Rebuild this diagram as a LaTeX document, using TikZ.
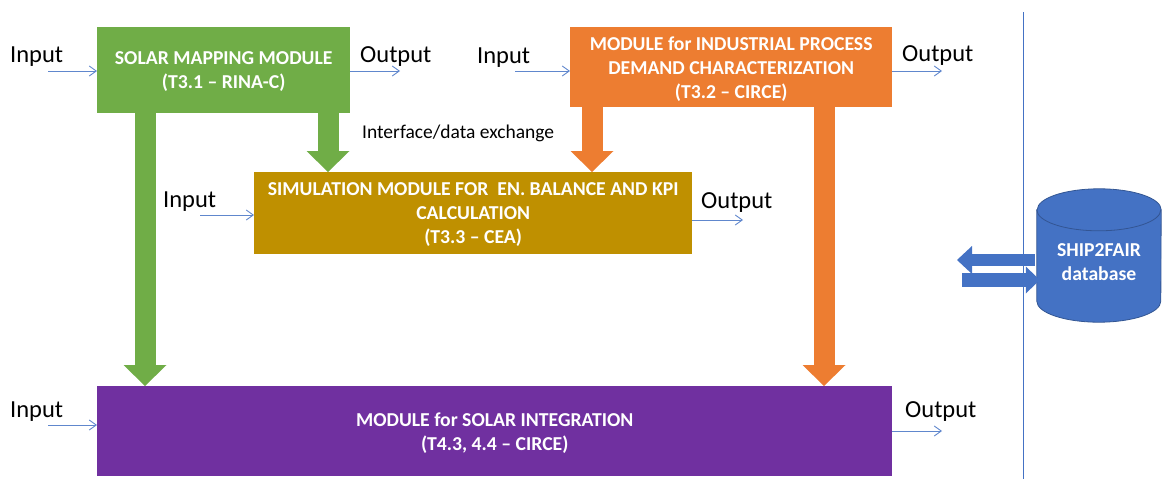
\documentclass[tikz,border=0pt]{standalone}
\usepackage{fontspec}
\setmainfont{Carlito}
\usetikzlibrary{positioning, arrows.meta, shapes.geometric}

\definecolor{solargreen}{HTML}{70AD47}
\definecolor{procorange}{HTML}{ED7D31}
\definecolor{simgold}{HTML}{BF9000}
\definecolor{integpurple}{HTML}{7030A0}
\definecolor{dbblue}{HTML}{4472C4}

\tikzset{
  module/.style={
    rectangle, inner sep=0pt, text depth=0pt,
    text centered, align=center, anchor=north west,
    text=white, font=\bfseries\fontsize{19.7}{24}\selectfont
  }
}
\tikzset{
  io/.style={font=\fontsize{24.5}{26}\selectfont, inner sep=0pt, anchor=west}
}
\tikzset{
  flow/.style={draw=dbblue!85, line width=0.9pt,
    -{Straight Barb[length=7pt,width=10pt]}}
}
\tikzset{
  fat/.style={line width=21pt,
    -{Triangle[length=21pt,width=43pt,line width=0pt]}}
}
\tikzset{
  dbbody/.style={fill=dbblue, draw=dbblue!75!black, line width=0.8pt},
  dbcap/.style={x radius=62pt, y radius=21pt}
}
\tikzset{
  dbtext/.style={align=center, inner sep=0pt,
    text=white, font=\bfseries\fontsize{19.7}{24}\selectfont}
}

\begin{document}
\begin{tikzpicture}[x=1pt, y=-1pt]
\useasboundingbox (0,0) rectangle (1162,479);

% ------------------------------------------------
% MODULES
% ------------------------------------------------

% solar mapping
\node[module, fill=solargreen, minimum width=253pt, minimum height=86pt]
  (smm) at (97,27) {SOLAR MAPPING MODULE\\(T3.1 -- RINA-C)};

% industrial process demand
\node[module, fill=procorange, minimum width=322pt, minimum height=80pt]
  (ipd) at (570,27) {MODULE for INDUSTRIAL PROCESS\\
  DEMAND CHARACTERIZATION\\(T3.2 -- CIRCE)};

% simulation
\node[module, fill=simgold, minimum width=438pt, minimum height=82pt]
  (sim) at (254,172) {SIMULATION MODULE FOR\ \ EN. BALANCE AND KPI\\
  CALCULATION\\(T3.3 -- CEA)};

% solar integration
\node[module, fill=integpurple, minimum width=795pt, minimum height=90pt]
  (integ) at (97,386) {MODULE for SOLAR INTEGRATION\\(T4.3, 4.4 -- CIRCE)};

% database (cylinder drawn round the node)
\node[minimum width=124pt, minimum height=133pt, inner sep=0pt]
  (db) at (1099,255.5) {};
\path[dbbody] ([yshift=-21pt]db.north west)
  -- ([yshift=21pt]db.south west) arc[start angle=180, end angle=360, dbcap]
  -- ([yshift=-21pt]db.north east) arc[start angle=0, end angle=180, dbcap]
  -- cycle;
\draw[dbblue!75!black, line width=0.8pt] ([yshift=-21pt]db.north west)
  arc[start angle=180, end angle=360, dbcap];
\node[dbtext] (dblabel) at ([yshift=-6.5pt]db.center) {SHIP2FAIR\\database};

% separator
\draw[dbblue, line width=0.9pt] (1023,12) -- (1023,479);

% ------------------------------------------------
% INPUT / OUTPUT
% ------------------------------------------------

\node[io] (in1) at (10,57) {Input};
\node[io] (out1) at (360,57) {Output};
\node[io] (in2) at (477,58) {Input};
\node[io] (out2) at (902,56) {Output};
\node[io] (in3) at (163,202) {Input};
\node[io] (out3) at (701,203) {Output};
\node[io] (in4) at (10,412) {Input};
\node[io] (out4) at (905,412) {Output};

\node[font=\fontsize{19.5}{20}\selectfont, inner sep=0pt, anchor=west]
  (iface) at (362,133) {Interface/data exchange};

\coordinate (a1) at (48,71);
\coordinate (a2) at (400,71);
\coordinate (a3) at (515,71);
\coordinate (a4) at (942,71);
\coordinate (a5) at (200,215);
\coordinate (a6) at (743,220);
\coordinate (a7) at (48,425);
\coordinate (a8) at (942,431);

\draw[flow] (a1) -- (a1 -| smm.west);
\draw[flow] (a2 -| smm.east) -- (a2);
\draw[flow] (a3) -- (a3 -| ipd.west);
\draw[flow] (a4 -| ipd.east) -- (a4);
\draw[flow] (a5) -- (a5 -| sim.west);
\draw[flow] (a6 -| sim.east) -- (a6);
\draw[flow] (a7) -- (a7 -| integ.west);
\draw[flow] (a8 -| integ.east) -- (a8);

% ------------------------------------------------
% BLOCK ARROWS
% ------------------------------------------------

\coordinate (g1) at ([xshift=48pt]smm.south west);
\coordinate (g2) at ([xshift=231pt]smm.south west);
\coordinate (o1) at ([xshift=22pt]ipd.south west);
\coordinate (o2) at ([xshift=254pt]ipd.south west);

\draw[fat, solargreen] (g1) -- (g1 |- integ.north);
\draw[fat, solargreen] (g2) -- (g2 |- sim.north);
\draw[fat, procorange] (o1) -- (o1 |- sim.north);
\draw[fat, procorange] (o2) -- (o2 |- integ.north);

% to / from database
\coordinate (dbout) at (957,260);
\coordinate (dbin) at (962,280);
\draw[dbblue, line width=12pt,
  -{Triangle[length=15pt,width=28pt,line width=0pt]}]
  ([xshift=-2pt]db.west |- dbout) -- (dbout);
\draw[dbblue, line width=14pt,
  -{Triangle[length=14pt,width=27pt,line width=0pt]}]
  (dbin) -- ([xshift=3pt]db.west |- dbin);

\end{tikzpicture}
\end{document}
